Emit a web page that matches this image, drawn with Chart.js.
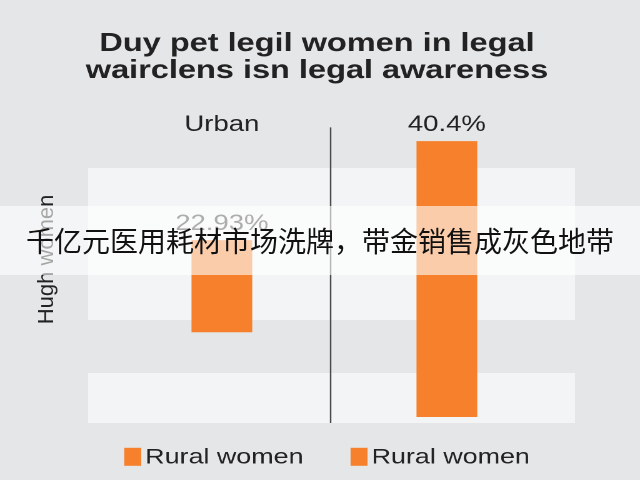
<!DOCTYPE html>
<html>
<head>
<meta charset="utf-8">
<script src="https://cdn.jsdelivr.net/npm/chart.js@4.4.1/dist/chart.umd.min.js"></script>
<style>
html, body { margin:0; padding:0; background:#e4e6e8; }
body { width:640px; height:480px; position:relative; overflow:hidden; }
/* the picture is drawn a bit wide, so the chart is stretched sideways */
#wrap { position:absolute; left:0; top:0; width:512px; height:480px; transform:scaleX(1.25); transform-origin:0 0; }
#banner { position:absolute; left:0; top:206px; width:640px; height:69px; background:rgba(255,255,255,0.6);
  color:#111; font:28px "Noto Sans CJK SC", sans-serif; line-height:69px; text-align:center; white-space:nowrap; }
</style>
</head>
<body>
<div id="wrap"><canvas id="chart"></canvas></div>
<div id="banner">千亿元医用耗材市场洗牌，带金销售成灰色地带</div>
<script>
var categories = ['Urban', '40.4%']
var seriesNames = ['Rural women', 'Rural women']
var barLow = [12.4, 0]
var barHigh = [25.9, 40.4]
var valueLabels = ['22.93%', '']

var orange = '#f6802b'
var font = '"Liberation Sans", Arial, Helvetica, sans-serif'

var datasets = seriesNames.map(function(name, i){
	return {
		label: name,
		data: categories.map(function(c, j){ return j === i ? [barLow[i], barHigh[i]] : null }),
		backgroundColor: orange,
		borderWidth: 0,
		barPercentage: 0.27,
		categoryPercentage: 1,
		grouped: false
	}
})

// light bands behind the bars + the divider between the groups
var bandsPlugin = {
	id: 'bands',
	beforeDatasetsDraw: function(chart, args, opts){
		var ctx = chart.ctx, y = chart.scales.y, x = chart.scales.x, a = chart.chartArea
		ctx.save()
		ctx.fillStyle = opts.color
		opts.ranges.forEach(function(r){
			var top = y.getPixelForValue(r[1]), bot = y.getPixelForValue(r[0])
			ctx.fillRect(a.left - opts.padLeft, top, a.right - a.left + opts.padLeft + opts.padRight, bot - top)
		})
		var mid = (x.getPixelForValue(0) + x.getPixelForValue(1)) / 2 - 3
		ctx.strokeStyle = '#4a4a4a'
		ctx.lineWidth = 1.2
		ctx.beginPath()
		ctx.moveTo(mid, a.top - 13)
		ctx.lineTo(mid, y.getPixelForValue(opts.ranges[1][0]))
		ctx.stroke()
		ctx.restore()
	}
}

var labelsPlugin = {
	id: 'valueLabels',
	afterDatasetsDraw: function(chart){
		var ctx = chart.ctx
		ctx.save()
		ctx.font = '22px ' + font
		ctx.fillStyle = '#333'
		ctx.textAlign = 'center'
		ctx.textBaseline = 'bottom'
		chart.data.datasets.forEach(function(ds, i){
			var bar = chart.getDatasetMeta(i).data[i]
			if (bar && valueLabels[i]) ctx.fillText(valueLabels[i], bar.x, bar.y - 5)
		})
		ctx.restore()
	}
}

var extrasPlugin = {
	id: 'extras',
	afterDraw: function(chart){
		var ctx = chart.ctx, a = chart.chartArea
		// y title, drawn unstretched
		ctx.save()
		ctx.scale(0.8, 1)
		ctx.translate(47, a.top + (a.bottom - a.top) * 0.42)
		ctx.rotate(-Math.PI / 2)
		ctx.font = '22px ' + font
		ctx.fillStyle = '#222'
		ctx.textAlign = 'center'
		ctx.textBaseline = 'middle'
		ctx.fillText('Hugh women', 0, 0)
		ctx.restore()

		// legend
		ctx.save()
		ctx.font = '21.5px ' + font
		ctx.textBaseline = 'middle'
		var boxW = 13.6, boxH = 18, gap = 3.2, itemGap = 37.6
		var widths = seriesNames.map(function(n){ return boxW + gap + ctx.measureText(n).width })
		var total = widths.reduce(function(s, w){ return s + w }, 0) + itemGap * (widths.length - 1)
		var x = chart.width * 0.511 - total / 2
		var cy = a.bottom + 33
		seriesNames.forEach(function(n, i){
			ctx.fillStyle = chart.data.datasets[i].backgroundColor
			ctx.fillRect(x, cy - boxH / 2, boxW, boxH)
			ctx.fillStyle = '#222'
			ctx.fillText(n, x + boxW + gap, cy + 1)
			x += widths[i] + itemGap
		})
		ctx.restore()
	}
}

var ctx = document.getElementById('chart')
var myChart = new Chart(ctx, {
	type: 'bar',
	data: {
		labels: categories,
		datasets: datasets
	},
	options: {
		responsive: true,
		maintainAspectRatio: false,
		devicePixelRatio: 2,
		animation: false,
		layout: { padding: { left: 59.7, right: 64.5, top: 20, bottom: 56.2 } },
		scales: {
			x: {
				position: 'top',
				grid: { display: false, drawTicks: false },
				border: { display: false },
				ticks: { color: '#222', padding: 2.2, font: { size: 22, family: font } }
			},
			y: {
				min: -1, max: 40.5,
				grid: { display: false, drawTicks: false },
				border: { display: false },
				ticks: { display: false },
				afterFit: function(scale){ scale.width = 27.8 }
			}
		},
		plugins: {
			legend: { display: false },
			tooltip: { enabled: false },
			title: {
				display: true,
				text: ['Duy pet legil women in legal', 'wairclens isn legal awareness'],
				color: '#222',
				font: { size: 26, weight: 'bold', family: font, lineHeight: 1.04 },
				padding: { top: 10.5, bottom: 25 }
			},
			bands: { color: '#f2f4f5', ranges: [[14.2, 36.46], [-0.88, 6.44]], padLeft: 17, padRight: 12.5 }
		}
	},
	plugins: [bandsPlugin, labelsPlugin, extrasPlugin]
})
</script>
</body>
</html>
